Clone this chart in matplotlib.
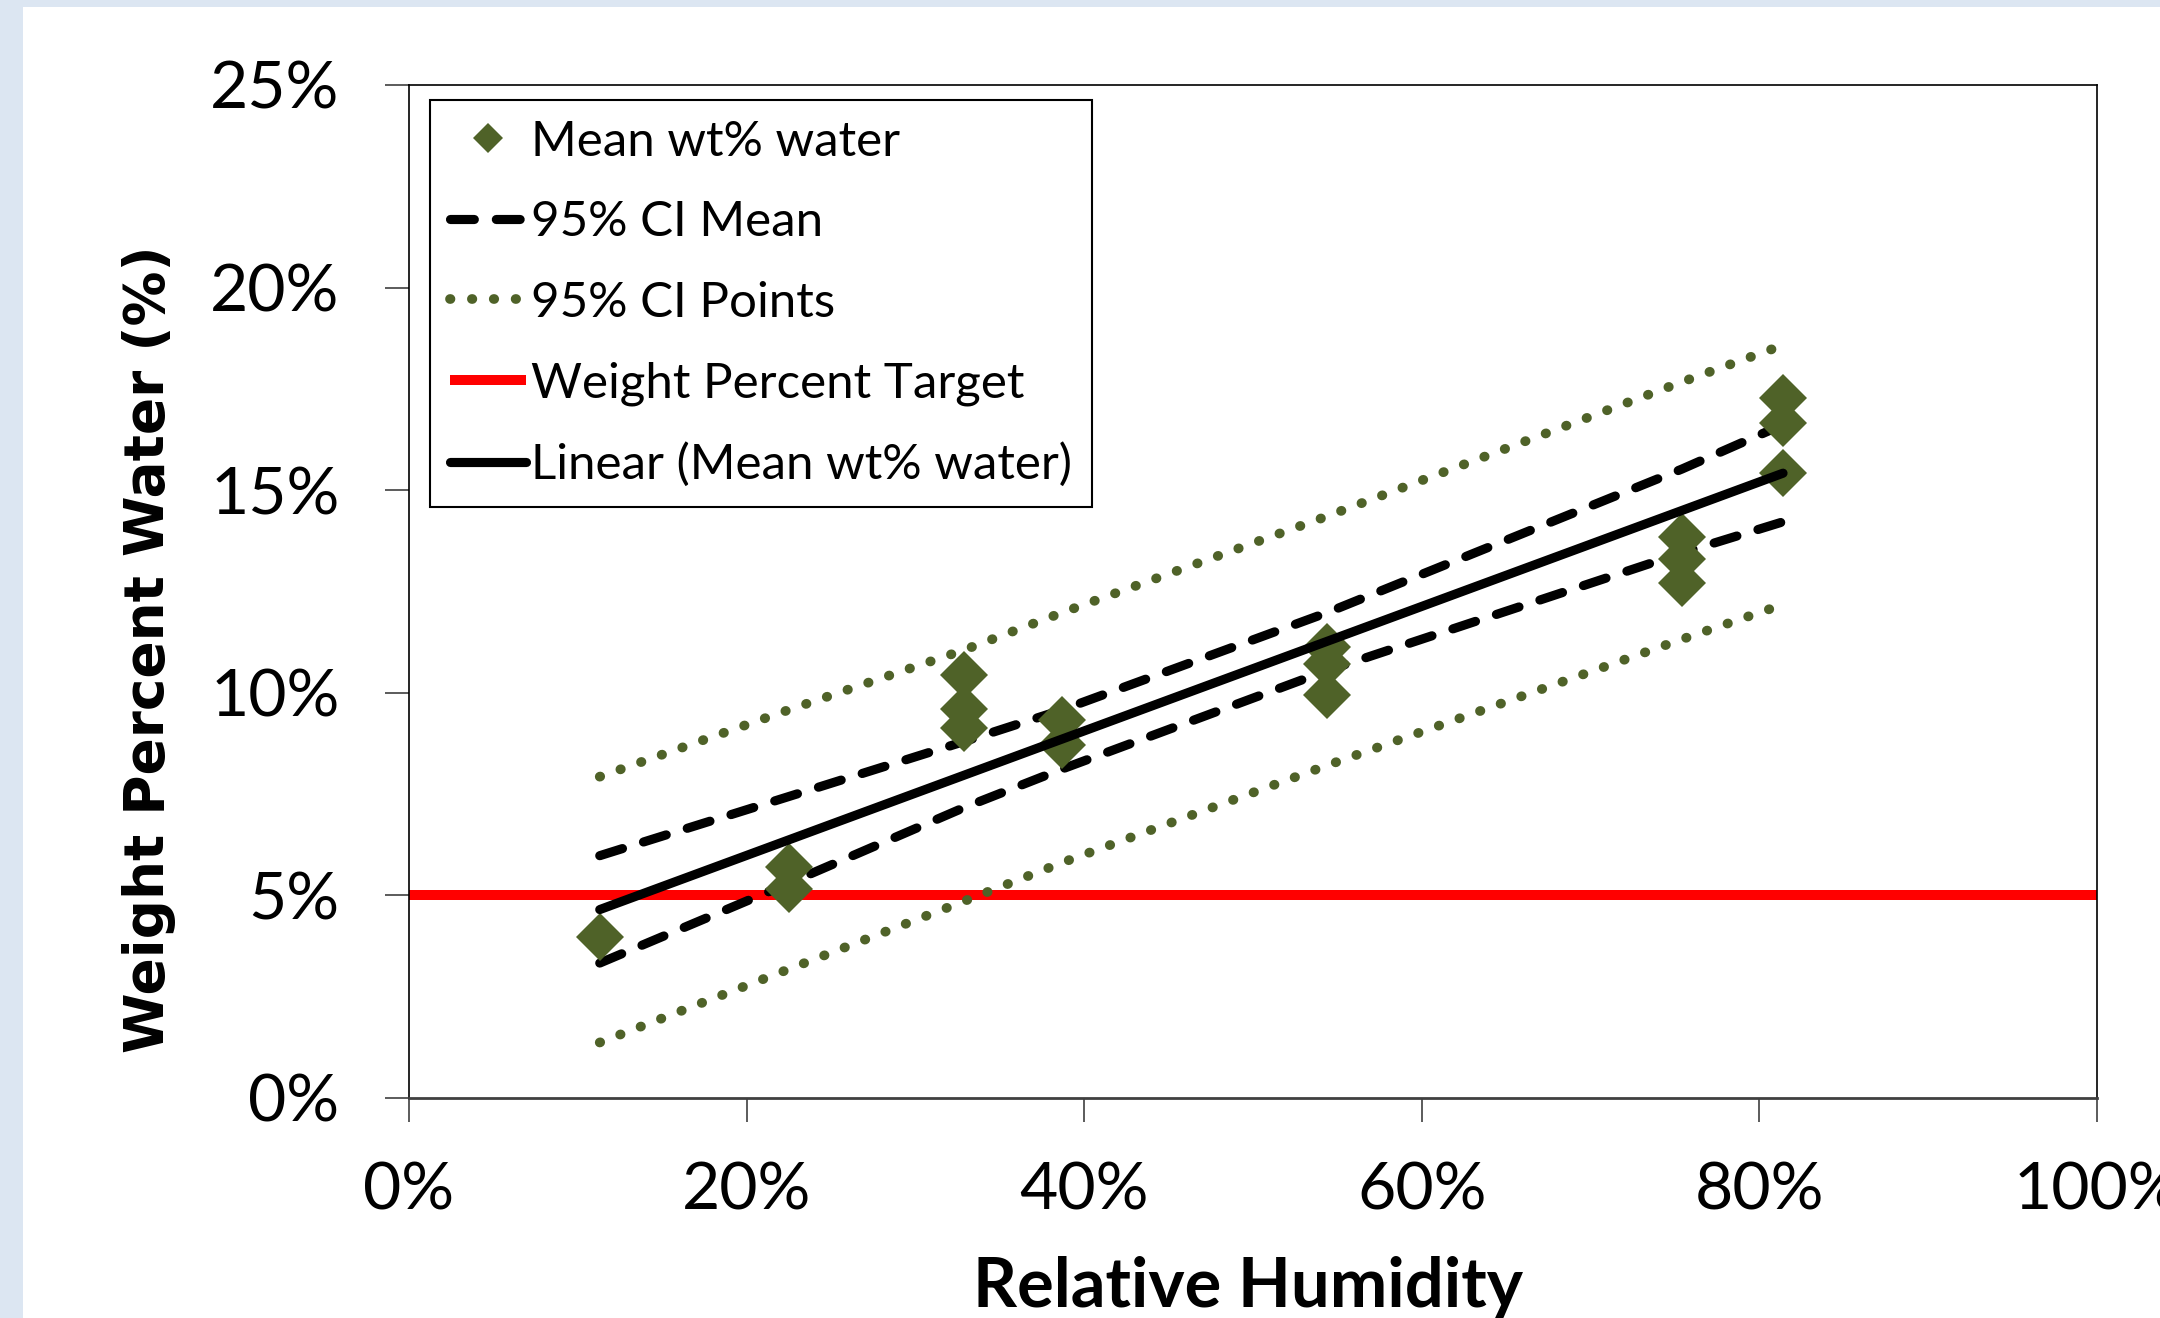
import numpy as np
import matplotlib.pyplot as plt
from matplotlib.patches import Rectangle

# measured points (relative humidity %, weight percent water %)
rh = [11.3, 22.5, 22.5, 32.9, 32.9, 32.9, 38.7, 38.7,
      54.4, 54.4, 54.4, 75.4, 75.4, 75.4, 81.4, 81.4, 81.4]
wt = [3.97, 5.70, 5.15, 10.44, 9.60, 9.13, 9.33, 8.72,
      11.12, 10.70, 9.95, 13.85, 13.30, 12.70, 17.27, 16.67, 15.42]

# confidence bands
ci_x = [11.3, 22.5, 32.9, 38.7, 54.4, 75.4, 81.4]
ci_mean_hi = [5.98, 7.44, 8.80, 9.58, 11.98, 15.52, 16.62]
ci_mean_lo = [3.33, 5.30, 7.17, 8.12, 10.55, 13.45, 14.22]
ci_pts_hi = [7.93, 9.58, 11.06, 11.98, 14.36, 17.67, 18.58]
ci_pts_lo = [1.37, 3.18, 4.86, 5.81, 8.21, 11.32, 12.18]

trend_x = [11.3, 81.4]
trend_y = [4.65, 15.42]

target_x = [0, 100]
target_y = [5, 5]

xticks = [0, 20, 40, 60, 80, 100]
yticks = [0, 5, 10, 15, 20, 25]

olive = '#4F6228'
tick_font = 'Lato'

fig = plt.figure(figsize=(21.6, 13.18), dpi=100)
fig.patch.set_facecolor('#DCE6F2')
fig.patches.append(Rectangle((23 / 2160, 0), 1, 1 - 7 / 1318, transform=fig.transFigure,
                             facecolor='white', edgecolor='none', zorder=-10))

ax = fig.add_axes([409 / 2160, 1 - 1098 / 1318, (2097 - 409) / 2160, (1098 - 85) / 1318])
ax.set_facecolor('white')

lw = 6.6
dash = (2.6, 2.4)
dots = (0.05, 2.2)
h_target, = ax.plot(target_x, target_y, color='#FF0000', lw=7.2, solid_capstyle='butt', zorder=2)
h_mean, = ax.plot(ci_x, ci_mean_hi, color='black', lw=lw, dashes=dash,
                  dash_capstyle='round', zorder=3)
ax.plot(ci_x, ci_mean_lo, color='black', lw=lw, dashes=dash, dash_capstyle='round', zorder=3)
h_pts, = ax.plot(ci_x, ci_pts_hi, color=olive, lw=7, dashes=dots,
                 dash_capstyle='round', zorder=3)
ax.plot(ci_x, ci_pts_lo, color=olive, lw=7, dashes=dots, dash_capstyle='round', zorder=3)
h_data, = ax.plot(rh, wt, linestyle='none', marker='D', ms=24, color=olive,
                  markeredgewidth=0, zorder=4)
h_trend, = ax.plot(trend_x, trend_y, color='black', lw=lw, solid_capstyle='round', zorder=5)

ax.set_xlim(0, 100)
ax.set_ylim(0, 25)
ax.set_xticks(xticks)
ax.set_yticks(yticks)
ax.set_xticklabels([f'{t}%' for t in xticks], fontfamily=tick_font, fontsize=47.5)
ax.set_yticklabels([f'{t}%' for t in yticks], fontfamily=tick_font, fontsize=47.5)
ax.tick_params(axis='both', direction='out', length=17, width=1.2, color='#404040')
ax.tick_params(axis='y', pad=33)
ax.tick_params(axis='x', pad=29)

for side in ['top', 'right', 'left']:
    ax.spines[side].set_linewidth(1.2)
    ax.spines[side].set_color('black')
ax.spines['bottom'].set_linewidth(2)
ax.spines['bottom'].set_color('#404040')

fig.text(149 / 2160, 1 - 649 / 1318, 'Weight Percent Water (%)', rotation=90,
         ha='center', va='center', fontsize=39.5, fontweight='bold', family='DejaVu Sans')
fig.text(1248 / 2160, 1 - 1307 / 1318, 'Relative Humidity', ha='center', va='baseline',
         fontsize=49.5, fontweight='bold', family=tick_font)

leg = ax.legend([h_data, h_mean, h_pts, h_target, h_trend],
                ['Mean wt% water', '95% CI Mean', '95% CI Points',
                 'Weight Percent Target', 'Linear (Mean wt% water)'],
                loc='upper left', bbox_to_anchor=(21 / 1688, 998 / 1013), borderaxespad=0,
                prop={'family': tick_font, 'size': 35.5}, markerscale=0.65,
                handlelength=1.54, handletextpad=0.11, labelspacing=0.74,
                borderpad=0.4, fancybox=False, framealpha=1, edgecolor='black')
leg.get_frame().set_linewidth(1.5)
leg.set_zorder(10)

plt.savefig('out.png', dpi=100, facecolor=fig.get_facecolor())
